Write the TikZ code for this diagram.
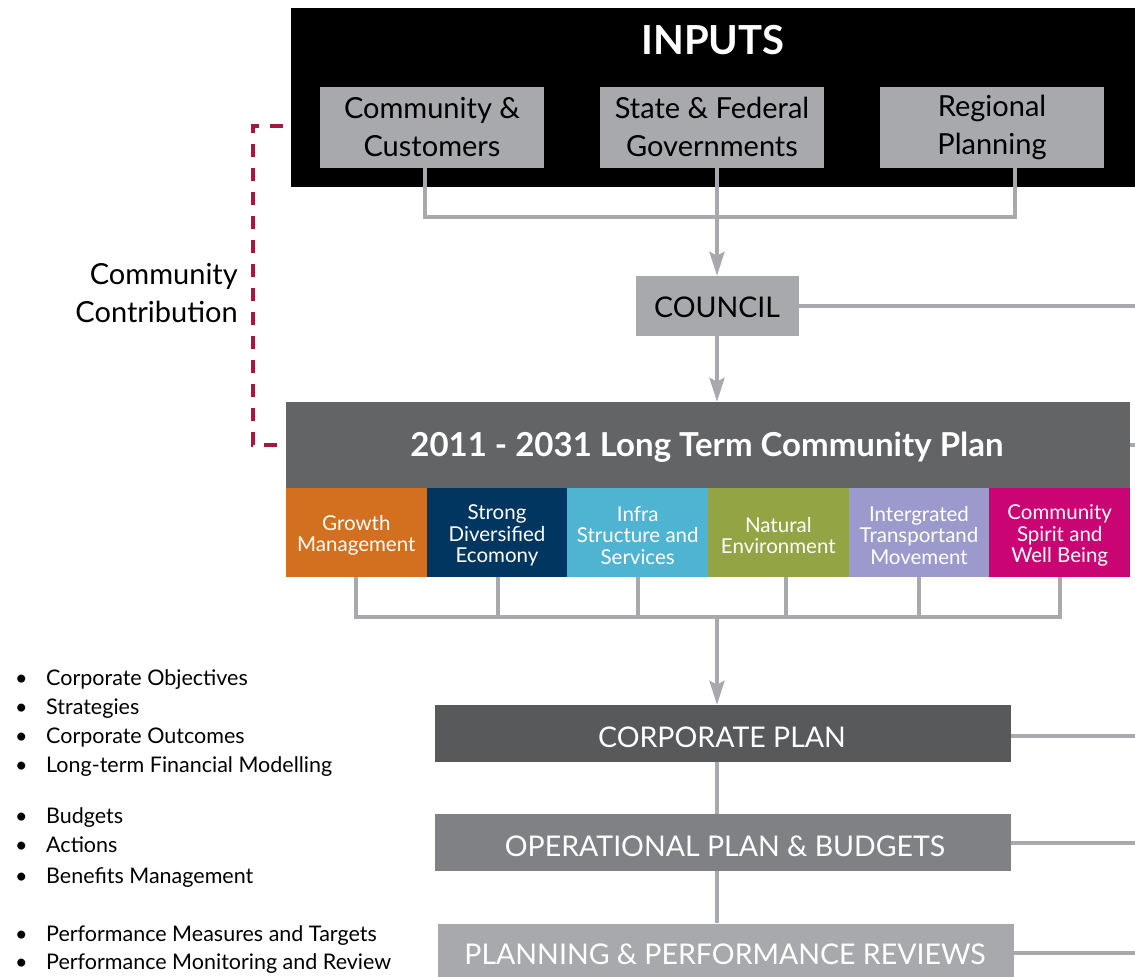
\documentclass[tikz,border=0pt]{standalone}
\usepackage{fontspec}
\setmainfont{Lato}
\usetikzlibrary{arrows.meta,calc}

\definecolor{linkgray}{HTML}{A7A9AC}
\definecolor{boxgray}{HTML}{A7A9AC}
\definecolor{plangray}{HTML}{636466}
\definecolor{corpgray}{HTML}{58595B}
\definecolor{opergray}{HTML}{808184}
\definecolor{crimson}{HTML}{A6193E}
\definecolor{cgrowth}{HTML}{D2701F}
\definecolor{ceconomy}{HTML}{003660}
\definecolor{cinfra}{HTML}{4FB3D2}
\definecolor{cnature}{HTML}{93A445}
\definecolor{ctransport}{HTML}{9C9ACD}
\definecolor{cspirit}{HTML}{CB0473}

\newcommand\fsz[2]{\fontsize{#1}{#2}\selectfont}

\tikzset{
  box/.style={rectangle, inner sep=0pt, align=center},
  inbox/.style={box, fill=boxgray, minimum width=224, minimum height=81, font=\fsz{29}{38}},
  theme/.style={box, minimum width=140.7, minimum height=89},
  themetext/.style={box, text=white, font=\fsz{20.5}{21.5}},
  tier/.style={box, minimum width=576, minimum height=57},
  tiertext/.style={box, text=white, font=\fsz{28.5}{30}},
  link/.style={draw=linkgray, line width=4pt},
  arr/.style={link, -{Stealth[length=24pt, width=15pt, inset=4pt]}},
  bracket/.style={draw=crimson, line width=4.5pt, dash pattern=on 13pt off 11pt},
  bullet/.style={anchor=base west, inner sep=0pt, font=\fsz{21.5}{25}}
}

\begin{document}
\begin{tikzpicture}[x=1pt, y=-1pt]
\useasboundingbox (0,0) rectangle (1135,977);

% inputs panel
\node[box, fill=black, minimum width=844, minimum height=179] (inputs) at (713,97.5) {};
\node[box, text=white, font=\fsz{40}{44}\bfseries] (inputsT) at (713,40) {INPUTS};
\node[inbox] (cc) at (432,127) {Community \&\\Customers};
\node[inbox] (sf) at (712,127) {State \& Federal\\Governments};
\node[inbox] (rp) at (992,127) {Regional\\Planning};

% council
\node[box, fill=boxgray, minimum width=163, minimum height=60] (council) at (717,306) {};
\node[box, font=\fsz{28.5}{30}] (councilT) at (717,307) {COUNCIL};

% long term plan and its themes
\node[box, fill=plangray, minimum width=844, minimum height=86] (plan) at (708,445) {};
\node[box, text=white, font=\fsz{33}{36}\bfseries] (planT) at (707,447) {2011 - 2031 Long Term Community Plan};
\node[theme, fill=cgrowth]    (t1) at (356.3,532.5) {};
\node[theme, fill=ceconomy]   (t2) at (497.0,532.5) {};
\node[theme, fill=cinfra]     (t3) at (637.7,532.5) {};
\node[theme, fill=cnature]    (t4) at (778.3,532.5) {};
\node[theme, fill=ctransport] (t5) at (919.0,532.5) {};
\node[theme, fill=cspirit]    (t6) at (1059.7,532.5) {};
\node[themetext] (t1T) at (356.3,535.5) {Growth\\Management};
\node[themetext] (t2T) at (497.0,535.5) {Strong\\Diversified\\Ecomony};
\node[themetext] (t3T) at (637.7,535.5) {Infra\\Structure and\\Services};
\node[themetext] (t4T) at (778.3,535.5) {Natural\\Environment};
\node[themetext] (t5T) at (919.0,535.5) {Intergrated\\Transportand\\Movement};
\node[themetext] (t6T) at (1059.7,535.5) {Community\\Spirit and\\Well Being};

% planning tiers
\node[tier, fill=corpgray] (corp) at (723,733.5) {};
\node[tier, fill=opergray] (oper) at (723,842.5) {};
\node[tier, fill=boxgray]  (perf) at (726,952) {};
\node[tiertext] (corpT) at (722,737) {CORPORATE PLAN};
\node[tiertext] (operT) at (725,846) {OPERATIONAL PLAN \& BUDGETS};
\node[tiertext] (perfT) at (725,954) {PLANNING \& PERFORMANCE REVIEWS};

% junction points and the right-hand edge
\coordinate (inbus) at (717,217);
\coordinate (thbus) at (717,617);
\coordinate (edge) at (1135,0);

% inputs into council
\draw[link] ([xshift=-7]cc.south) |- ([xshift=23]rp.south |- inbus) -- ([xshift=23]rp.south);
\draw[link] ([xshift=5]sf.south) -- (inbus);
\draw[arr] (inbus) -- (inbus |- council.north);

% council into the plan
\draw[arr] (council.south) -- (council.south |- plan.north);

% themes into the corporate plan
\draw[link] (t1.south) |- ([xshift=0.3]t6.south |- thbus) -- ([xshift=0.3]t6.south);
\draw[link] ([xshift=1]t2.south) -- ([xshift=1]t2.south |- thbus);
\draw[link] (t3.south) -- (t3.south |- thbus);
\draw[link] ([xshift=8]t4.south) -- ([xshift=8]t4.south |- thbus);
\draw[link] (t5.south) -- (t5.south |- thbus);
\draw[arr] (thbus) -- (thbus |- corp.north);

% tiers linked downwards
\draw[link] (corp.south -| thbus) -- (oper.north -| thbus);
\draw[link] (oper.south -| thbus) -- (perf.north -| thbus);

% lines running off to the right
\draw[link] (council.east) -- (council.east -| edge);
\draw[link] (plan.east) -- (plan.east -| edge);
\draw[link] ([yshift=-2.5]corp.east) -- ([yshift=-2.5]corp.east -| edge);
\draw[link] (oper.east) -- (oper.east -| edge);
\draw[link] ([yshift=-1]perf.east) -- ([yshift=-1]perf.east -| edge);

% community contribution bracket
\coordinate (dtop) at (283,126);
\coordinate (dbot) at (283,445);
\draw[bracket] (dtop) -- ++(-30,0) |- (dbot);
\node[box, align=right, anchor=east, font=\fsz{29}{38}] (contrib) at (238,293) {Community\\Contribution};

% bullet lists beside the tiers
\node[bullet] (c1) at (15,685) {\makebox[31pt][l]{•}Corporate Objectives};
\node[bullet] (c2) at (15,714) {\makebox[31pt][l]{•}Strategies};
\node[bullet] (c3) at (15,743) {\makebox[31pt][l]{•}Corporate Outcomes};
\node[bullet] (c4) at (15,772) {\makebox[31pt][l]{•}Long-term Financial Modelling};
\node[bullet] (o1) at (15,823) {\makebox[31pt][l]{•}Budgets};
\node[bullet] (o2) at (15,852) {\makebox[31pt][l]{•}Actions};
\node[bullet] (o3) at (15,883) {\makebox[31pt][l]{•}Benefits Management};
\node[bullet] (p1) at (15,941) {\makebox[31pt][l]{•}Performance Measures and Targets};
\node[bullet] (p2) at (15,969) {\makebox[31pt][l]{•}Performance Monitoring and Review};
\end{tikzpicture}
\end{document}
